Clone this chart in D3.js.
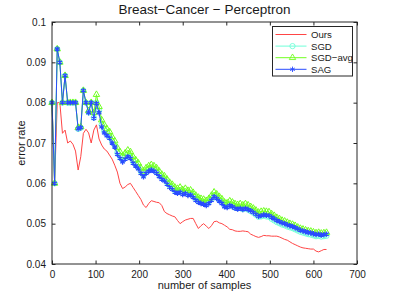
<!DOCTYPE html>
<html>
<head>
<meta charset="utf-8">
<script src="https://d3js.org/d3.v7.min.js"></script>
<style>
  body { margin: 0; background: #fff; }
  text { font-family: "Liberation Sans", Arial, Helvetica, sans-serif; fill: #1a1a1a; }
</style>
</head>
<body>
<div id="chart"></div>
<script>
// number of samples (x) for every point of every series
const samples = d3.range(0, 631, 6);

// Ours (red line, no markers)
const ours = [
  0.0800, 0.0600, 0.0800, 0.0800, 0.0724, 0.0732, 0.0700, 0.0705, 0.0697, 0.0680,
  0.0633, 0.0666, 0.0724, 0.0734, 0.0725, 0.0700, 0.0732, 0.0745, 0.0710, 0.0695,
  0.0685, 0.0680, 0.0670, 0.0660, 0.0645, 0.0628, 0.0600, 0.0587, 0.0591, 0.0597,
  0.0600, 0.0590, 0.0580, 0.0570, 0.0560, 0.0546, 0.0540, 0.0550, 0.0557, 0.0555,
  0.0553, 0.0552, 0.0545, 0.0530, 0.0525, 0.0522, 0.0519, 0.0517, 0.0508, 0.0500,
  0.0505, 0.0509, 0.0511, 0.0513, 0.0513, 0.0500, 0.0488, 0.0495, 0.0500, 0.0494,
  0.0488, 0.0495, 0.0505, 0.0506, 0.0502, 0.0500, 0.0496, 0.0492, 0.0486, 0.0485,
  0.0482, 0.0481, 0.0481, 0.0482, 0.0481, 0.0480, 0.0474, 0.0471, 0.0468, 0.0466,
  0.0468, 0.0471, 0.0470, 0.0470, 0.0469, 0.0469, 0.0469, 0.0467, 0.0464, 0.0461,
  0.0459, 0.0455, 0.0451, 0.0448, 0.0445, 0.0442, 0.0440, 0.0439, 0.0438, 0.0437,
  0.0437, 0.0432, 0.0430, 0.0433, 0.0436, 0.0436
];

// SGD (cyan circles)
const sgd = [
  0.0800, 0.0600, 0.0933, 0.0900, 0.0800, 0.0867, 0.0800, 0.0800, 0.0800, 0.0800,
  0.0735, 0.0738, 0.0830, 0.0800, 0.0776, 0.0800, 0.0763, 0.0800, 0.0780, 0.0745,
  0.0730, 0.0722, 0.0716, 0.0704, 0.0694, 0.0676, 0.0666, 0.0657, 0.0664, 0.0670,
  0.0666, 0.0654, 0.0647, 0.0640, 0.0629, 0.0620, 0.0629, 0.0634, 0.0637, 0.0634,
  0.0629, 0.0621, 0.0614, 0.0610, 0.0602, 0.0594, 0.0589, 0.0582, 0.0579, 0.0582,
  0.0576, 0.0579, 0.0574, 0.0575, 0.0569, 0.0562, 0.0557, 0.0554, 0.0552, 0.0549,
  0.0554, 0.0562, 0.0570, 0.0565, 0.0559, 0.0553, 0.0545, 0.0543, 0.0547, 0.0544,
  0.0540, 0.0538, 0.0539, 0.0536, 0.0538, 0.0535, 0.0531, 0.0527, 0.0522, 0.0517,
  0.0518, 0.0520, 0.0518, 0.0517, 0.0512, 0.0508, 0.0504, 0.0501, 0.0498, 0.0496,
  0.0493, 0.0491, 0.0489, 0.0486, 0.0483, 0.0480, 0.0478, 0.0476, 0.0474, 0.0473,
  0.0471, 0.0469, 0.0470, 0.0468, 0.0469, 0.0470
];

// SGD-avg (green triangles)
const sgdAvg = [
  0.0800, 0.0600, 0.0933, 0.0900, 0.0800, 0.0867, 0.0800, 0.0800, 0.0800, 0.0800,
  0.0738, 0.0740, 0.0830, 0.0800, 0.0780, 0.0800, 0.0775, 0.0820, 0.0790, 0.0757,
  0.0745, 0.0735, 0.0728, 0.0715, 0.0705, 0.0688, 0.0678, 0.0668, 0.0675, 0.0682,
  0.0678, 0.0666, 0.0658, 0.0650, 0.0638, 0.0630, 0.0638, 0.0643, 0.0646, 0.0643,
  0.0638, 0.0630, 0.0622, 0.0618, 0.0610, 0.0602, 0.0597, 0.0590, 0.0587, 0.0590,
  0.0584, 0.0587, 0.0582, 0.0583, 0.0577, 0.0570, 0.0565, 0.0562, 0.0560, 0.0557,
  0.0562, 0.0570, 0.0578, 0.0573, 0.0567, 0.0561, 0.0553, 0.0551, 0.0556, 0.0553,
  0.0549, 0.0547, 0.0549, 0.0546, 0.0549, 0.0546, 0.0542, 0.0538, 0.0533, 0.0528,
  0.0530, 0.0531, 0.0530, 0.0529, 0.0524, 0.0520, 0.0515, 0.0512, 0.0508, 0.0506,
  0.0503, 0.0500, 0.0498, 0.0495, 0.0491, 0.0488, 0.0486, 0.0484, 0.0482, 0.0481,
  0.0479, 0.0477, 0.0478, 0.0476, 0.0477, 0.0478
];

// SAG (blue stars)
const sag = [
  0.0800, 0.0600, 0.0933, 0.0900, 0.0800, 0.0867, 0.0800, 0.0800, 0.0800, 0.0800,
  0.0735, 0.0738, 0.0830, 0.0800, 0.0775, 0.0800, 0.0761, 0.0798, 0.0775, 0.0740,
  0.0725, 0.0718, 0.0712, 0.0700, 0.0690, 0.0672, 0.0662, 0.0653, 0.0660, 0.0666,
  0.0662, 0.0650, 0.0643, 0.0636, 0.0625, 0.0616, 0.0625, 0.0630, 0.0633, 0.0630,
  0.0625, 0.0617, 0.0610, 0.0606, 0.0598, 0.0590, 0.0585, 0.0578, 0.0575, 0.0578,
  0.0572, 0.0575, 0.0570, 0.0571, 0.0565, 0.0558, 0.0553, 0.0550, 0.0548, 0.0545,
  0.0550, 0.0558, 0.0567, 0.0562, 0.0556, 0.0550, 0.0542, 0.0540, 0.0545, 0.0542,
  0.0538, 0.0536, 0.0538, 0.0535, 0.0538, 0.0535, 0.0532, 0.0528, 0.0523, 0.0518,
  0.0520, 0.0522, 0.0521, 0.0520, 0.0516, 0.0512, 0.0508, 0.0505, 0.0502, 0.0500,
  0.0497, 0.0495, 0.0493, 0.0490, 0.0487, 0.0484, 0.0482, 0.0480, 0.0478, 0.0477,
  0.0475, 0.0473, 0.0474, 0.0472, 0.0473, 0.0474
];

const xTicks = [0, 100, 200, 300, 400, 500, 600, 700];
const yTicks = [0.04, 0.05, 0.06, 0.07, 0.08, 0.09, 0.1];

const series = [
  { name: "Ours",    values: ours,   line: "#ff4545", marker: null },
  { name: "SGD",     values: sgd,    line: "#70ffd8", marker: "circle" },
  { name: "SGD\u2212avg", values: sgdAvg, line: "#70ff20", marker: "triangle" },
  { name: "SAG",     values: sag,    line: "#2a4cff", marker: "star" }
];

const W = 395, H = 297;
const m = { left: 52, top: 22, right: 38, bottom: 33 };
const iw = W - m.left - m.right, ih = H - m.top - m.bottom;

const svg = d3.select("#chart").append("svg")
  .attr("width", W).attr("height", H);
svg.append("rect").attr("width", W).attr("height", H).attr("fill", "#fff");

const g = svg.append("g").attr("transform", `translate(${m.left},${m.top})`);

const x = d3.scaleLinear().domain([0, 700]).range([0, iw]);
const y = d3.scaleLinear().domain([0.04, 0.1]).range([ih, 0]);

const axisColor = "#262626";

// axes with inward ticks on all four sides
function styleAxis(sel) {
  sel.select(".domain").remove();
  sel.selectAll(".tick line").attr("stroke", axisColor);
  sel.selectAll(".tick text").attr("fill", "#1a1a1a").style("font-size", "10px");
}
g.append("g").attr("transform", `translate(0,${ih})`)
  .call(d3.axisBottom(x).tickValues(xTicks).tickSizeInner(-3.5).tickSizeOuter(0).tickPadding(7).tickFormat(d3.format("d")))
  .call(styleAxis);
g.append("g")
  .call(d3.axisTop(x).tickValues(xTicks).tickSizeInner(-3.5).tickSizeOuter(0).tickFormat(""))
  .call(styleAxis);
g.append("g")
  .call(d3.axisLeft(y).tickValues(yTicks).tickSizeInner(-3.5).tickSizeOuter(0).tickPadding(6).tickFormat(d => d3.format("")(+d.toFixed(2))))
  .call(styleAxis);
g.append("g").attr("transform", `translate(${iw},0)`)
  .call(d3.axisRight(y).tickValues(yTicks).tickSizeInner(-3.5).tickSizeOuter(0).tickFormat(""))
  .call(styleAxis);

// data
const line = d3.line().x((d, i) => x(samples[i])).y(d => y(d));
const sym = {
  circle: d3.symbol().type(d3.symbolCircle).size(22),
  triangle: d3.symbol().type(d3.symbolTriangle).size(18),
  star: d3.symbol().type(d3.symbolAsterisk).size(20)
};

series.forEach(s => {
  const sg = g.append("g");
  sg.append("path").datum(s.values)
    .attr("d", line).attr("fill", "none")
    .attr("stroke", s.line).attr("stroke-width", 1);
  if (s.marker) {
    sg.selectAll("path.mk").data(s.values).enter().append("path")
      .attr("class", "mk")
      .attr("transform", (d, i) => `translate(${x(samples[i])},${y(d)})`)
      .attr("d", sym[s.marker]())
      .attr("fill", "none")
      .attr("stroke", s.line)
      .attr("stroke-width", s.marker === "star" ? 1.3 : 1);
  }
});

// frame
g.append("rect").attr("width", iw).attr("height", ih)
  .attr("fill", "none").attr("stroke", axisColor).attr("stroke-width", 1);

// title and labels
svg.append("text").attr("x", m.left + iw / 2).attr("y", 14)
  .attr("text-anchor", "middle").style("font-size", "13.5px")
  .text("Breast\u2212Cancer \u2212 Perceptron");
svg.append("text").attr("x", m.left + iw / 2).attr("y", 289)
  .attr("text-anchor", "middle").style("font-size", "11px")
  .text("number of samples");
svg.append("text")
  .attr("transform", `translate(25,${m.top + ih / 2}) rotate(-90)`)
  .attr("text-anchor", "middle").style("font-size", "11px")
  .text("error rate");

// legend
const lg = svg.append("g").attr("transform", "translate(272.5,26.5)");
lg.append("rect").attr("width", 80).attr("height", 49.5)
  .attr("fill", "#fff").attr("stroke", axisColor).attr("stroke-width", 1);
series.forEach((s, i) => {
  const yy = 8 + i * 11.6;
  lg.append("line").attr("x1", 3).attr("x2", 34).attr("y1", yy).attr("y2", yy)
    .attr("stroke", s.line).attr("stroke-width", 1);
  if (s.marker) {
    lg.append("path").attr("transform", `translate(20,${yy})`)
      .attr("d", sym[s.marker]()).attr("fill", "none")
      .attr("stroke", s.line).attr("stroke-width", 0.9);
  }
  lg.append("text").attr("x", 38.5).attr("y", yy + 3.5)
    .style("font-size", "9.6px").text(s.name);
});
</script>
</body>
</html>
